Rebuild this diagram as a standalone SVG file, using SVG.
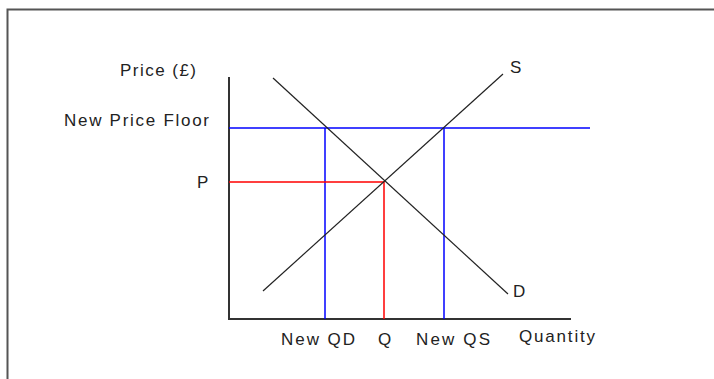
<svg xmlns="http://www.w3.org/2000/svg" width="714" height="379" viewBox="0 0 714 379">
<style>
text{font-family:"Liberation Sans",Arial,sans-serif;font-size:17px;fill:#222}
.ax{stroke:#333;stroke-width:2;fill:none}
.cv{stroke:#222;stroke-width:1.2;fill:none}
.bl{stroke:#0000ff;stroke-width:1.5;fill:none}
.rd{stroke:#ff0000;stroke-width:1.5;fill:none}
</style>
<rect x="0" y="0" width="714" height="379" fill="#ffffff"/>
<path d="M7.5 379 V9.5 H714" fill="none" stroke="#555" stroke-width="2"/>
<g id="axes">
<path class="ax" d="M229 77 V319 H571"/>
<text x="120" y="76" textLength="76" lengthAdjust="spacing">Price (£)</text>
<text x="519" y="342" textLength="76" lengthAdjust="spacing">Quantity</text>
</g>
<g id="connectors">
<path class="bl" d="M229 128 H590"/>
<path class="bl" d="M325 128 V319"/>
<path class="bl" d="M444 128 V319"/>
<path class="rd" d="M229 182 H384 V319"/>
</g>
<g id="supply">
<path class="cv" d="M263 291 L503 74"/>
<text x="510" y="73">S</text>
</g>
<g id="demand">
<path class="cv" d="M273 78 L508 294"/>
<text x="513" y="297">D</text>
</g>
<g id="labels">
<text x="64" y="126" textLength="145" lengthAdjust="spacing">New Price Floor</text>
<text x="197" y="188">P</text>
<text x="281" y="345" textLength="74" lengthAdjust="spacing">New QD</text>
<text x="378" y="345">Q</text>
<text x="416" y="345" textLength="74" lengthAdjust="spacing">New QS</text>
</g>
</svg>
